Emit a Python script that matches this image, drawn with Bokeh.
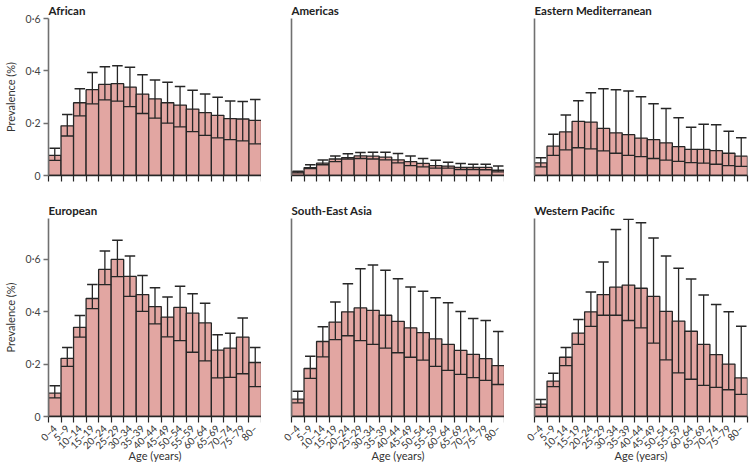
from bokeh.plotting import figure
from bokeh.layouts import column, row
from bokeh.models import Range1d, FixedTicker, ColumnDataSource
from bokeh.embed import file_html
from bokeh.resources import INLINE

ages = ["0–4", "5–9", "10–14", "15–19", "20–24", "25–29", "30–34", "35–39", "40–44",
        "45–49", "50–54", "55–59", "60–64", "65–69", "70–74", "75–79", "80–"]

y_ticks = [0, 0.2, 0.4, 0.6]
y_tick_labels = ["0", "0·2", "0·4", "0·6"]

african_mean = [0.077, 0.190, 0.278, 0.328, 0.348, 0.351, 0.338, 0.311, 0.293, 0.278, 0.269, 0.254, 0.240, 0.230, 0.217, 0.216, 0.211]
african_lower = [0.058, 0.151, 0.228, 0.274, 0.289, 0.284, 0.263, 0.237, 0.219, 0.200, 0.186, 0.168, 0.153, 0.144, 0.137, 0.132, 0.121]
african_upper = [0.104, 0.233, 0.332, 0.394, 0.416, 0.419, 0.414, 0.385, 0.365, 0.356, 0.340, 0.326, 0.311, 0.299, 0.285, 0.283, 0.290]

americas_mean = [0.014, 0.030, 0.047, 0.063, 0.068, 0.075, 0.074, 0.070, 0.060, 0.053, 0.046, 0.038, 0.036, 0.031, 0.031, 0.031, 0.020]
americas_lower = [0.010, 0.026, 0.041, 0.053, 0.063, 0.065, 0.063, 0.060, 0.048, 0.038, 0.033, 0.028, 0.028, 0.023, 0.023, 0.022, 0.014]
americas_upper = [0.016, 0.041, 0.059, 0.075, 0.083, 0.088, 0.089, 0.089, 0.084, 0.075, 0.065, 0.058, 0.051, 0.046, 0.043, 0.043, 0.036]

emed_mean = [0.048, 0.112, 0.167, 0.207, 0.204, 0.180, 0.163, 0.156, 0.143, 0.137, 0.125, 0.110, 0.100, 0.100, 0.095, 0.085, 0.074]
emed_lower = [0.033, 0.077, 0.098, 0.106, 0.102, 0.094, 0.085, 0.077, 0.072, 0.065, 0.059, 0.054, 0.049, 0.047, 0.043, 0.038, 0.035]
emed_upper = [0.068, 0.158, 0.231, 0.286, 0.316, 0.332, 0.328, 0.323, 0.301, 0.274, 0.256, 0.221, 0.184, 0.196, 0.194, 0.169, 0.144]

europe_mean = [0.089, 0.222, 0.340, 0.450, 0.561, 0.599, 0.534, 0.465, 0.419, 0.379, 0.416, 0.394, 0.357, 0.253, 0.261, 0.303, 0.206]
europe_lower = [0.071, 0.191, 0.303, 0.411, 0.503, 0.533, 0.458, 0.401, 0.353, 0.304, 0.289, 0.245, 0.212, 0.147, 0.149, 0.163, 0.114]
europe_upper = [0.117, 0.263, 0.385, 0.503, 0.631, 0.672, 0.612, 0.538, 0.491, 0.456, 0.497, 0.468, 0.432, 0.312, 0.317, 0.376, 0.263]

sea_mean = [0.066, 0.183, 0.286, 0.360, 0.399, 0.414, 0.405, 0.386, 0.363, 0.338, 0.320, 0.296, 0.275, 0.252, 0.237, 0.221, 0.194]
sea_lower = [0.052, 0.145, 0.227, 0.293, 0.308, 0.289, 0.275, 0.261, 0.243, 0.226, 0.215, 0.191, 0.176, 0.161, 0.148, 0.138, 0.122]
sea_upper = [0.096, 0.230, 0.342, 0.437, 0.506, 0.563, 0.578, 0.558, 0.525, 0.494, 0.478, 0.453, 0.434, 0.400, 0.374, 0.366, 0.324]

wpac_mean = [0.047, 0.135, 0.226, 0.318, 0.399, 0.465, 0.493, 0.501, 0.489, 0.458, 0.401, 0.364, 0.325, 0.275, 0.236, 0.200, 0.147]
wpac_lower = [0.035, 0.114, 0.194, 0.275, 0.344, 0.386, 0.386, 0.366, 0.338, 0.280, 0.216, 0.166, 0.142, 0.119, 0.111, 0.102, 0.084]
wpac_upper = [0.065, 0.165, 0.263, 0.370, 0.475, 0.589, 0.713, 0.752, 0.739, 0.681, 0.612, 0.565, 0.524, 0.463, 0.427, 0.399, 0.344]

FONT = "Lato"
BAR_FILL = "#E2A6A2"
DARK = "#262626"
AXIS_GREY = "#707070"
PX_PER_UNIT = 262
FRAME_W = 213


def panel(title, mean, lower, upper, ymax, first_col, bottom_row, left_b, right_b, top_b, bot_b):
    n = len(ages)
    centers = [i + 0.5 for i in range(n)]
    src = ColumnDataSource(dict(
        x=centers, mean=mean, lower=lower, upper=upper,
        left=[c - 0.5 for c in centers], right=[c + 0.5 for c in centers],
        capl=[c - 0.42 for c in centers], capr=[c + 0.42 for c in centers],
    ))
    p = figure(frame_width=FRAME_W, frame_height=int(round(ymax * PX_PER_UNIT)),
               x_range=Range1d(0, n), y_range=Range1d(0, ymax),
               output_backend="svg", toolbar_location=None,
               min_border_left=left_b, min_border_right=right_b,
               min_border_top=top_b, min_border_bottom=bot_b)
    p.title.text = title
    p.title.text_font = FONT
    p.title.text_font_size = "11.5px"
    p.title.text_font_style = "bold"
    p.title.text_color = "#222222"
    p.title.standoff = 3
    p.title.offset = 0
    p.outline_line_color = None
    p.grid.visible = False
    p.background_fill_color = "white"

    p.vbar(x="x", top="mean", bottom=0, width=1, source=src,
           fill_color=BAR_FILL, line_color=DARK, line_width=1.3)
    p.segment(x0="x", y0="lower", x1="x", y1="upper", source=src, line_color=DARK, line_width=1.3)
    p.segment(x0="capl", y0="upper", x1="capr", y1="upper", source=src, line_color=DARK, line_width=1.5)
    p.segment(x0="left", y0="lower", x1="right", y1="lower", source=src, line_color=DARK, line_width=1.3)

    xa = p.xaxis[0]
    xa.ticker = FixedTicker(ticks=centers, minor_ticks=list(range(n + 1)))
    xa.major_tick_line_color = None
    xa.major_tick_in = 0
    xa.major_tick_out = 0
    xa.minor_tick_in = 0
    xa.minor_tick_out = 6
    xa.minor_tick_line_color = DARK
    xa.minor_tick_line_width = 1.2
    xa.axis_line_color = DARK
    xa.axis_line_width = 1.3
    if bottom_row:
        xa.major_label_overrides = {c: a for c, a in zip(centers, ages)}
        xa.major_label_orientation = 0.785398
        xa.major_label_text_font = FONT
        xa.major_label_text_font_size = "10px"
        xa.major_label_text_color = "#333333"
        xa.major_label_standoff = 4
        xa.axis_label = "Age (years)"
        xa.axis_label_text_font = FONT
        xa.axis_label_text_font_size = "11px"
        xa.axis_label_text_font_style = "normal"
        xa.axis_label_text_color = "#333333"
        xa.axis_label_standoff = -9
    else:
        xa.major_label_text_font_size = "0px"
        xa.major_label_text_color = None

    ya = p.yaxis[0]
    ya.axis_line_color = AXIS_GREY
    ya.axis_line_width = 1.6
    if first_col:
        ya.ticker = FixedTicker(ticks=y_ticks, minor_ticks=[])
        ya.major_label_overrides = {t: s for t, s in zip(y_ticks, y_tick_labels)}
        ya.major_tick_in = 0
        ya.major_tick_out = 5
        ya.major_tick_line_color = AXIS_GREY
        ya.major_tick_line_width = 1.4
        ya.minor_tick_line_color = None
        ya.major_label_text_font = FONT
        ya.major_label_text_font_size = "10.5px"
        ya.major_label_text_color = "#444444"
        ya.major_label_standoff = 3
        ya.axis_label = "Prevalence (%)"
        ya.axis_label_text_font = FONT
        ya.axis_label_text_font_size = "11px"
        ya.axis_label_text_font_style = "normal"
        ya.axis_label_text_color = "#333333"
        ya.axis_label_standoff = 6
    else:
        ya.ticker = FixedTicker(ticks=[], minor_ticks=[])
        ya.major_tick_line_color = None
        ya.minor_tick_line_color = None
        ya.major_label_text_font_size = "0px"
    return p


top_b, top_bot = 14, 7
bot_top, bot_bot = 36, 20
p1 = panel("African", african_mean, african_lower, african_upper, 0.6, True, False, 34, 0, top_b, top_bot)
p2 = panel("Americas", americas_mean, americas_lower, americas_upper, 0.6, False, False, 30, 0, top_b, top_bot)
p3 = panel("Eastern Mediterranean", emed_mean, emed_lower, emed_upper, 0.6, False, False, 30, 3, top_b, top_bot)
p4 = panel("European", europe_mean, europe_lower, europe_upper, 0.755, True, True, 34, 0, bot_top, bot_bot)
p5 = panel("South-East Asia", sea_mean, sea_lower, sea_upper, 0.755, False, True, 30, 0, bot_top, bot_bot)
p6 = panel("Western Pacific", wpac_mean, wpac_lower, wpac_upper, 0.755, False, True, 30, 3, bot_top, bot_bot)

layout = column(row(p1, p2, p3), row(p4, p5, p6))
open("out.html", "w").write(file_html(layout, INLINE))
